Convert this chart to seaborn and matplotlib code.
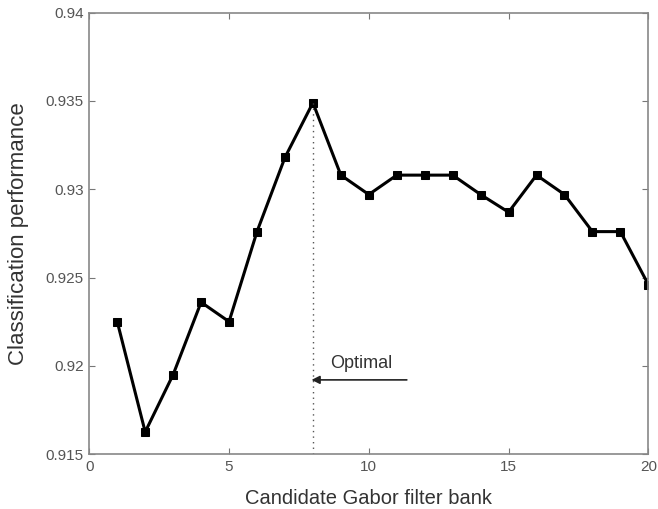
import matplotlib
matplotlib.use("Agg")
import matplotlib.pyplot as plt
import seaborn as sns
import pandas as pd

bank = list(range(1, 21))
performance = [0.9225, 0.91625, 0.9195, 0.9236, 0.9225, 0.9276, 0.9318, 0.9349,
               0.9308, 0.9297, 0.9308, 0.9308, 0.9308, 0.9297, 0.9287, 0.9308,
               0.9297, 0.9276, 0.9276, 0.9246]
xticks = [0, 5, 10, 15, 20]
yticks = [0.915, 0.92, 0.925, 0.93, 0.935, 0.94]
ytick_labels = ["0.915", "0.92", "0.925", "0.93", "0.935", "0.94"]
optimal_x = 8

sns.set_theme(style="white")
plt.rcParams['font.family'] = ['Liberation Sans', 'DejaVu Sans']

df = pd.DataFrame({"bank": bank, "perf": performance})

fig = plt.figure(figsize=(6.58, 5.09), dpi=100)
ax = fig.add_axes([0.1357, 0.108, 0.8496, 0.867])

sns.lineplot(data=df, x="bank", y="perf", ax=ax, color="black", linewidth=2.2,
             marker="s", markersize=6, markerfacecolor="black",
             markeredgecolor="black")

opt_val = performance[bank.index(optimal_x)]
ax.plot([optimal_x, optimal_x], [0.915, opt_val], linestyle=(0, (1, 3)),
        color="#555555", linewidth=1)

ax.annotate("", xy=(7.95, 0.9192), xytext=(11.36, 0.9192),
            arrowprops=dict(arrowstyle="-|>", color="#222222", lw=1.2,
                            mutation_scale=12, shrinkA=0, shrinkB=0))
ax.text(8.6, 0.91985, "Optimal", fontsize=13, color="#333333", va="baseline", ha="left")

ax.set_xlim(0, 20)
ax.set_ylim(0.915, 0.94)
ax.set_xticks(xticks)
ax.set_yticks(yticks)
ax.set_yticklabels(ytick_labels)
ax.tick_params(direction="in", length=4, width=0.8, color="#777777",
               labelsize=11, labelcolor="#555555", top=True, right=True,
               bottom=True, left=True, pad=4)
for s in ax.spines.values():
    s.set_color("#888888")
    s.set_linewidth(1.2)

ax.set_xlabel("Candidate Gabor filter bank", fontsize=14.5, color="#333333", labelpad=11)
ax.set_ylabel("Classification performance", fontsize=16, color="#333333", labelpad=12)

fig.savefig("out.png", dpi=100)
